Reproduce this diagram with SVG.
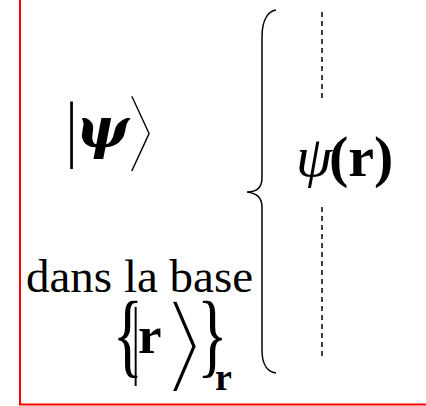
<svg xmlns="http://www.w3.org/2000/svg" width="426" height="406" viewBox="0 0 426 406">
<style>
.t{font-family:"Liberation Serif","Times New Roman",serif;fill:#000}
.g{font-family:"DejaVu Serif",serif;fill:#000}
.a{font-family:"DejaVu Sans",sans-serif;fill:#000;stroke:#fff;stroke-width:6.5}
.b{font-weight:bold}
.i{font-style:italic}
.ln{stroke:#000;stroke-width:1.5;fill:none}
.d{stroke:#000;stroke-width:1.5;stroke-dasharray:5 4;fill:none}
</style>
<rect width="426" height="406" fill="#fff"/>
<g id="frame"><path d="M20,0 V404.5 H426" stroke="#f00" stroke-width="2" fill="none"/></g>
<g id="ket-psi">
<text class="a" transform="translate(114,161.7) scale(1.41,0.944)" font-size="96">⟩</text>
<text class="t" transform="translate(65.9,153.3) scale(0.75,1)" font-size="74">|</text>
<text class="g b i" x="76" y="147" font-size="56">ψ</text>
</g>
<g id="base-label">
<text class="a" transform="translate(155.5,380.4) scale(1.29,0.93)" font-size="115">⟩</text>
<text class="t" x="26" y="292" font-size="47">dans la base</text>
<text class="t" transform="translate(112.6,366.3) scale(1,1.447)" font-size="64">{</text>
<text class="t" transform="translate(131.8,366.6) scale(0.45,1)" font-size="87">|</text>
<text class="t b" x="138" y="353" font-size="53">r</text>
<text class="t" transform="translate(197,366.3) scale(1,1.447)" font-size="64">}</text>
<text class="t b" x="215" y="390" font-size="38">r</text>
</g>
<g id="connectors">
<path class="ln" d="M276,10 C268,11 262,20 262,37 V178 C262,188 256,192 247,192 C256,193 262,197 262,207 V350 C262,365 268,372 276,373"/>
<path class="d" d="M322,12 V98"/>
<path class="d" d="M322,207 V357"/>
</g>
<g id="psi-r">
<text class="t" x="296" y="176" font-size="58"><tspan class="i">ψ</tspan><tspan class="b" dx="-3">(r)</tspan></text>
</g>
</svg>
